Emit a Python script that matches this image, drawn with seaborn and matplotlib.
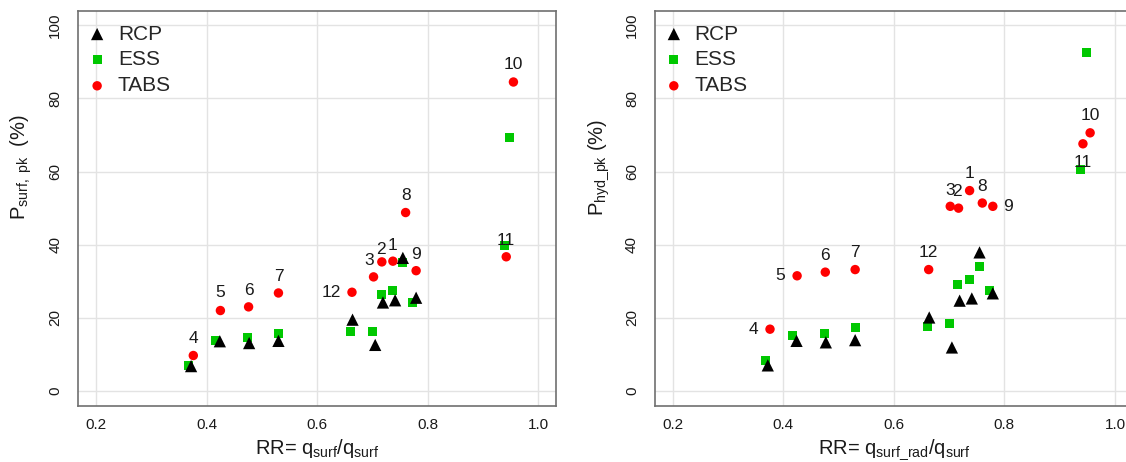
import numpy as np
import pandas as pd
import matplotlib
matplotlib.use("Agg")
import matplotlib.pyplot as plt
import seaborn as sns

# ---- data -------------------------------------------------------------
cases_all = [1, 2, 3, 4, 5, 6, 7, 8, 9, 10, 11, 12]
cases_rcp = [1, 2, 3, 4, 5, 6, 7, 8, 9, 12]

rr_tabs = [0.737, 0.717, 0.702, 0.376, 0.425, 0.476, 0.530, 0.760, 0.779, 0.955, 0.942, 0.663]
rr_ess = [0.737, 0.716, 0.701, 0.367, 0.417, 0.474, 0.530, 0.755, 0.773, 0.948, 0.938, 0.661]
rr_rcp = [0.741, 0.719, 0.705, 0.372, 0.424, 0.477, 0.530, 0.755, 0.779, 0.664]

p_surf_tabs = [35.5, 35.3, 31.2, 9.7, 22.0, 23.0, 26.8, 48.8, 32.9, 84.5, 36.7, 27.0]
p_surf_ess = [27.6, 26.4, 16.4, 7.0, 13.8, 14.6, 15.7, 35.0, 24.2, 69.4, 39.8, 16.4]
p_surf_rcp = [24.8, 24.2, 12.6, 6.8, 13.6, 13.1, 13.7, 36.4, 25.5, 19.5]

p_hyd_tabs = [54.8, 50.0, 50.5, 16.9, 31.5, 32.5, 33.2, 51.4, 50.5, 70.6, 67.6, 33.2]
p_hyd_ess = [30.6, 29.0, 18.4, 8.2, 15.1, 15.7, 17.4, 34.1, 27.4, 92.5, 60.5, 17.7]
p_hyd_rcp = [25.3, 24.7, 11.9, 7.0, 13.7, 13.3, 13.9, 37.9, 26.7, 20.1]

x_ticks = [0.2, 0.4, 0.6, 0.8, 1.0]
x_tick_labels = ["0.2", "0.4", "0.6", "0.8", "1.0"]
y_ticks = [0, 20, 40, 60, 80, 100]
y_tick_labels = ["0", "20", "40", "60", "80", "100"]

systems = ["RCP", "ESS", "TABS"]


def long_table(p_rcp, p_ess, p_tabs):
    frames = [
        pd.DataFrame({"case": cases_rcp, "RR": rr_rcp, "P": p_rcp, "system": "RCP"}),
        pd.DataFrame({"case": cases_all, "RR": rr_ess, "P": p_ess, "system": "ESS"}),
        pd.DataFrame({"case": cases_all, "RR": rr_tabs, "P": p_tabs, "system": "TABS"}),
    ]
    return pd.concat(frames, ignore_index=True)


df_surf = long_table(p_surf_rcp, p_surf_ess, p_surf_tabs)
df_hyd = long_table(p_hyd_rcp, p_hyd_ess, p_hyd_tabs)

# ---- style --------------------------------------------------------------
sns.set_theme(style="whitegrid")
plt.rcParams["font.family"] = ["Liberation Sans", "DejaVu Sans"]
plt.rcParams["mathtext.fontset"] = "custom"
plt.rcParams["mathtext.rm"] = "Liberation Sans"
plt.rcParams["mathtext.it"] = "Liberation Sans:italic"

colors = {"RCP": "#000000", "ESS": "#00c800", "TABS": "#ff0000"}
markers = {"RCP": "^", "ESS": "s", "TABS": "o"}
msize = {"RCP": 78, "ESS": 42, "TABS": 46}
draw_order = ["ESS", "RCP", "TABS"]

# case-number label offsets (points) relative to the TABS point of each case
offs_surf = {1: (0, 11.5), 2: (-1, 9), 3: (-3.5, 12), 4: (0, 12), 5: (0, 13),
             6: (0, 12), 7: (0, 12), 8: (0, 12.2), 9: (0, 11.7), 10: (0, 12.5),
             11: (0, 11.7), 12: (-15, 0)}
offs_hyd = {1: (0, 12.2), 2: (-1, 12.2), 3: (0, 11.7), 4: (-12, 0), 5: (-12, 0),
            6: (0, 12.2), 7: (0, 12.2), 8: (0, 12.2), 9: (11, 0), 10: (0, 12.2),
            11: (0, -13.5), 12: (0, 12.2)}

fig = plt.figure(figsize=(11.26, 4.62), dpi=100)
W, H = 1126, 462
ax_w = 477.7 / W
ax_h = 394.9 / H
ax_b = (H - 405.6) / H
ax1 = fig.add_axes([78.3 / W, ax_b, ax_w, ax_h])
ax2 = fig.add_axes([655.0 / W, ax_b, ax_w, ax_h])

panels = [
    (ax1, df_surf, offs_surf,
     r"P$_{\mathrm{surf,\ pk}}$  (%)",
     r"RR= q$_{\mathrm{surf}}$/q$_{\mathrm{surf}}$"),
    (ax2, df_hyd, offs_hyd,
     r"P$_{\mathrm{hyd\_pk}}$ (%)",
     r"RR= q$_{\mathrm{surf\_rad}}$/q$_{\mathrm{surf}}$"),
]

for ax, df, offs, ylab, xlab in panels:
    for sysname in draw_order:
        sub = df[df["system"] == sysname]
        sns.scatterplot(data=sub, x="RR", y="P", ax=ax, marker=markers[sysname],
                        color=colors[sysname], s=msize[sysname], edgecolor="none",
                        linewidth=0, label=sysname, zorder=3)

    tabs = df[df["system"] == "TABS"]
    for _, row in tabs.iterrows():
        dx, dy = offs[int(row["case"])]
        ax.annotate(str(int(row["case"])), (row["RR"], row["P"]),
                    xytext=(dx, dy), textcoords="offset points",
                    ha="center", va="center", fontsize=12.5, color="#1a1a1a",
                    zorder=4)

    ax.set_xlim(0.168, 1.032)
    ax.set_ylim(-4, 104)
    ax.set_xticks(x_ticks)
    ax.set_xticklabels(x_tick_labels)
    ax.set_yticks(y_ticks)
    ax.set_yticklabels(y_tick_labels, rotation=90, va="center")
    ax.grid(True, color="#e3e3e3", linewidth=1.0)
    ax.set_axisbelow(True)
    for sp in ax.spines.values():
        sp.set_color("#6f6f6f")
        sp.set_linewidth(1.2)
    ax.tick_params(axis="both", which="major", direction="out", length=5.5,
                   width=1.0, color="#6f6f6f", labelsize=11, labelcolor="#1a1a1a")
    ax.tick_params(axis="x", pad=3.5)
    ax.tick_params(axis="y", pad=6)

    ax.set_xlabel(xlab, fontsize=14.5, color="#1a1a1a")
    ax.xaxis.set_label_coords(0.5, -0.08)
    ax.set_ylabel(ylab, fontsize=14.5, color="#1a1a1a")
    ax.yaxis.set_label_coords(-0.093, 0.604)

    handles, labels = ax.get_legend_handles_labels()
    lookup = dict(zip(labels, handles))
    ax.legend([lookup[s] for s in systems], systems, loc="upper left",
              bbox_to_anchor=(0.0176, 0.965), frameon=False, borderaxespad=0,
              borderpad=0, fontsize=15, handlelength=1.0, handletextpad=0.5,
              labelspacing=0.33, markerscale=1.0)

fig.savefig("out.png", dpi=100)
